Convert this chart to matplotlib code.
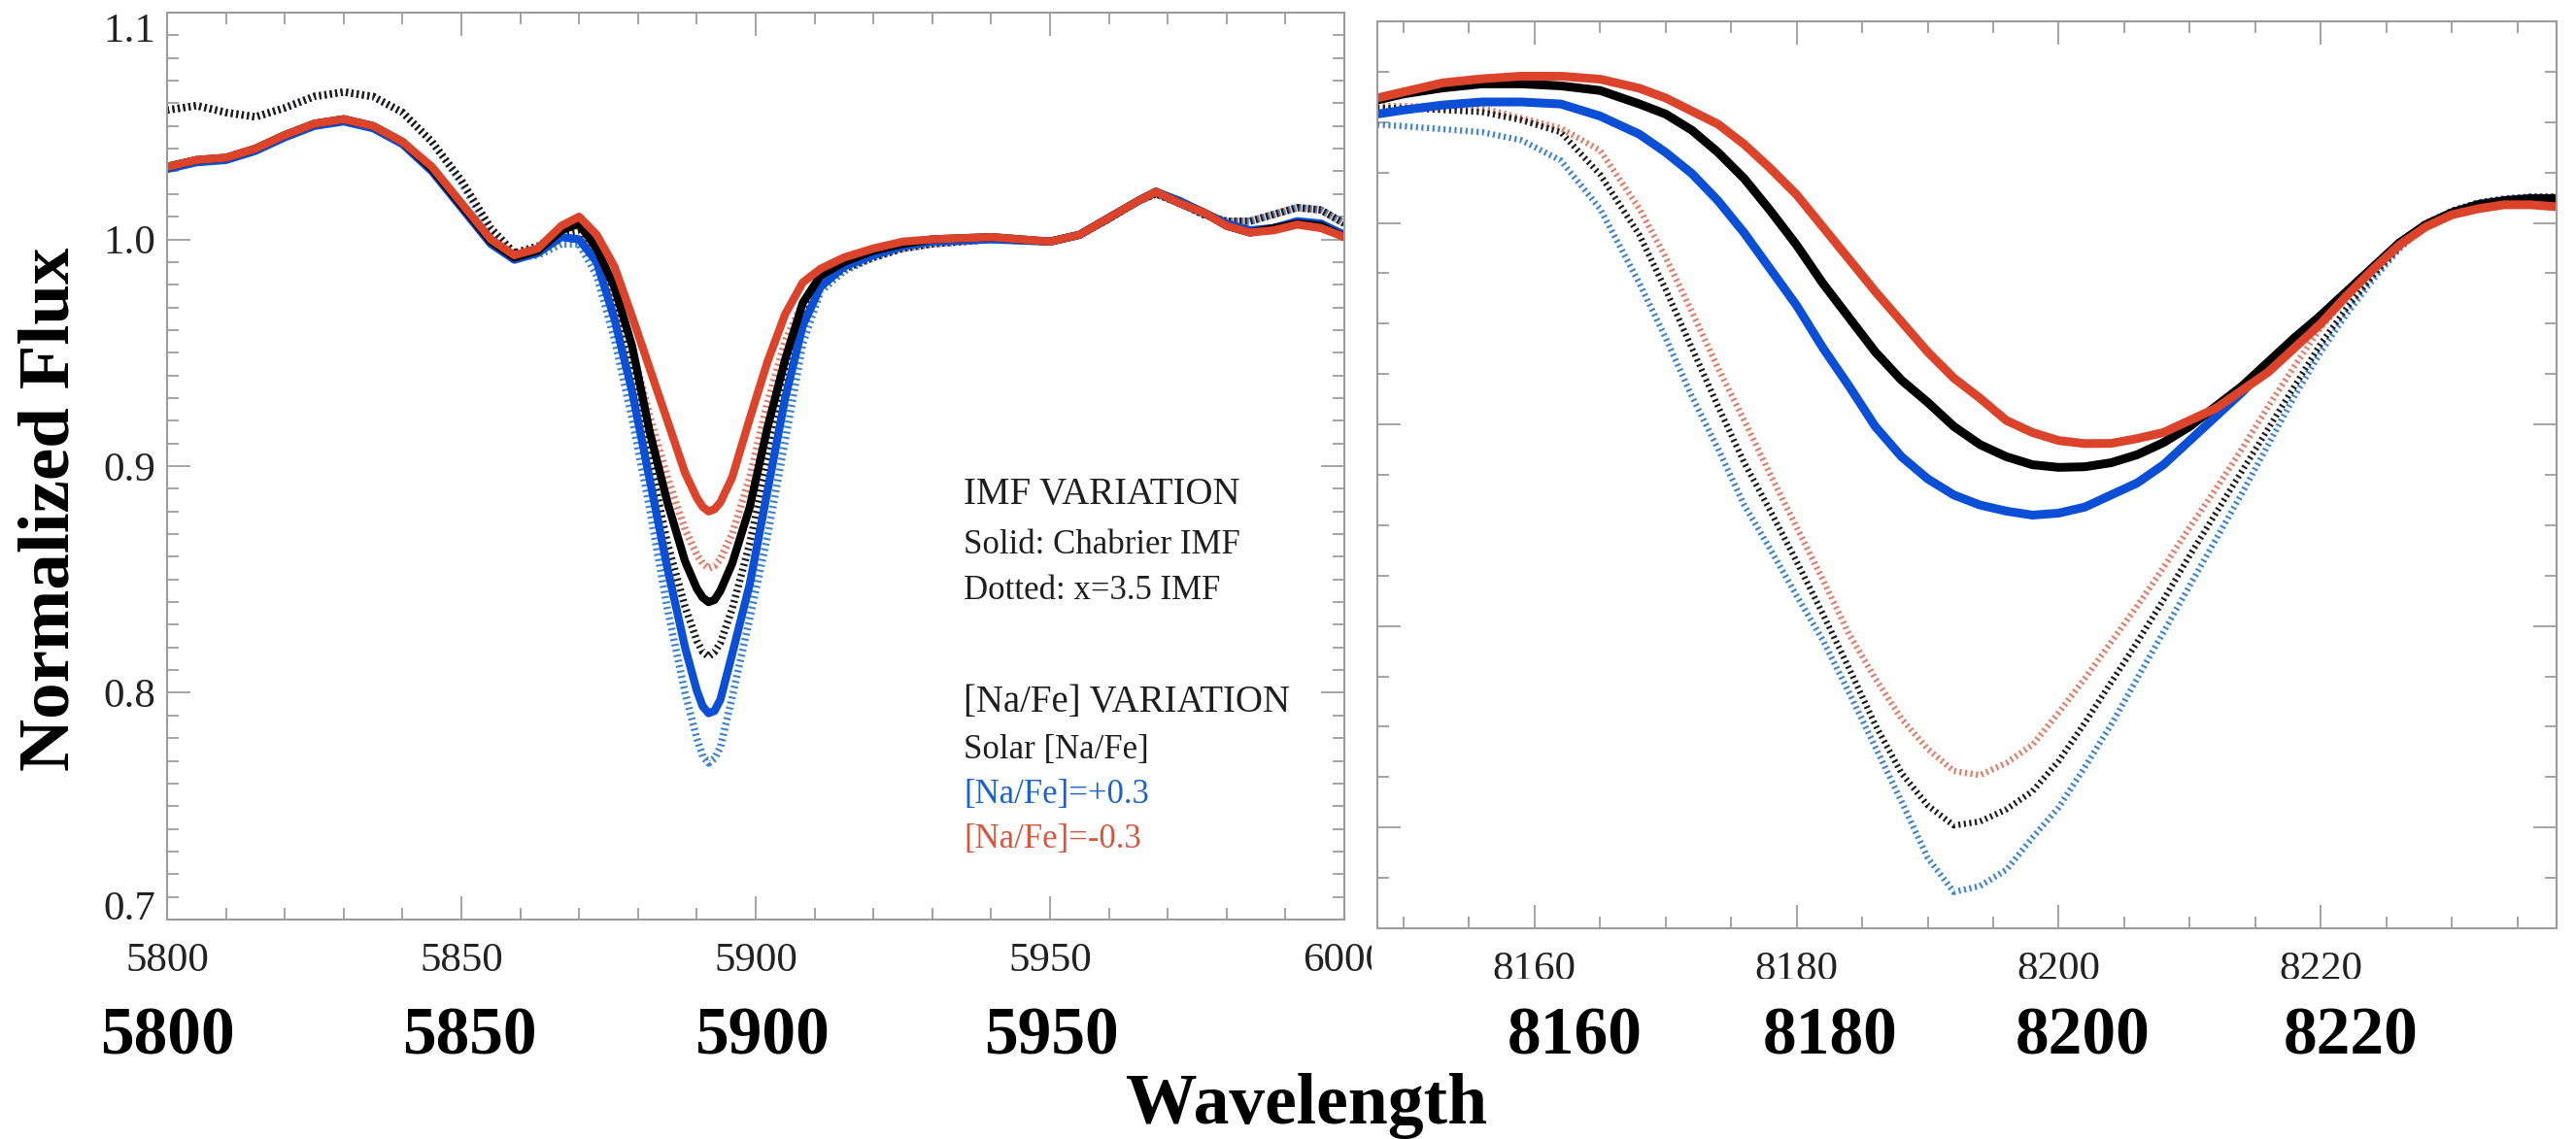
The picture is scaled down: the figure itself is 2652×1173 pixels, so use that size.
import matplotlib
matplotlib.use("Agg")
import matplotlib.pyplot as plt
from matplotlib.ticker import MultipleLocator
from matplotlib.patches import Rectangle

plt.rcParams['font.family'] = ['Liberation Serif', 'DejaVu Serif']


# -------------------------------------------------
# DATA : Na D region (left panel)
# -------------------------------------------------
wl_na = [5800, 5805, 5810, 5815, 5820, 5825, 5830, 5835, 5840, 5845, 5850, 5855,
         5859, 5863, 5867, 5870, 5873, 5876, 5879, 5882, 5885, 5888,
         5890, 5891, 5892, 5893, 5894, 5896, 5899, 5902, 5905, 5908, 5911,
         5915, 5920, 5925, 5930, 5940, 5950, 5955, 5960, 5965, 5968,
         5972, 5976, 5980, 5984, 5988, 5992, 5996, 6000]

# Chabrier IMF (solid)
na_chab_solar = [1.032, 1.035, 1.036, 1.040, 1.046, 1.051, 1.053, 1.050, 1.043, 1.031, 1.015, 0.999,
                 0.992, 0.995, 1.004, 1.007, 0.996, 0.979, 0.953, 0.915, 0.884, 0.858,
                 0.846, 0.842, 0.840, 0.841, 0.845, 0.857, 0.882, 0.917, 0.947, 0.972, 0.984,
                 0.990, 0.995, 0.998, 1.000, 1.001, 0.999, 1.002, 1.0095, 1.017, 1.021,
                 1.016, 1.012, 1.006, 1.003, 1.005, 1.007, 1.006, 1.001]
na_chab_p03 = [1.031, 1.034, 1.035, 1.039, 1.045, 1.050, 1.052, 1.049, 1.042, 1.030, 1.014, 0.998,
               0.991, 0.994, 1.001, 1.000, 0.990, 0.965, 0.933, 0.894, 0.855, 0.820,
               0.801, 0.794, 0.791, 0.792, 0.797, 0.817, 0.848, 0.889, 0.930, 0.962, 0.979,
               0.988, 0.993, 0.997, 0.999, 1.000, 0.999, 1.002, 1.0095, 1.017, 1.021,
               1.017, 1.012, 1.007, 1.004, 1.005, 1.008, 1.007, 1.002]
na_chab_m03 = [1.032, 1.035, 1.036, 1.040, 1.046, 1.051, 1.053, 1.050, 1.043, 1.032, 1.016, 1.000,
               0.993, 0.996, 1.006, 1.010, 1.002, 0.988, 0.966, 0.943, 0.920, 0.897,
               0.886, 0.882, 0.880, 0.881, 0.884, 0.895, 0.921, 0.946, 0.967, 0.981, 0.987,
               0.992, 0.996, 0.999, 1.000, 1.001, 0.999, 1.002, 1.0095, 1.017, 1.021,
               1.016, 1.012, 1.006, 1.003, 1.004, 1.0065, 1.005, 1.001]

# x=3.5 IMF (dotted)
na_x35_solar = [1.057, 1.059, 1.056, 1.054, 1.058, 1.063, 1.065, 1.063, 1.056, 1.043, 1.026, 1.005,
                0.994, 0.997, 1.002, 1.003, 0.991, 0.968, 0.940, 0.903, 0.866, 0.838,
                0.823, 0.818, 0.816, 0.818, 0.822, 0.837, 0.866, 0.902, 0.936, 0.964, 0.980,
                0.987, 0.992, 0.996, 0.998, 1.000, 0.999, 1.002, 1.009, 1.017, 1.020,
                1.016, 1.011, 1.008, 1.008, 1.011, 1.014, 1.013, 1.007]
na_x35_p03 = [1.057, 1.059, 1.056, 1.054, 1.058, 1.063, 1.065, 1.063, 1.056, 1.043, 1.025, 1.003,
              0.992, 0.993, 0.998, 0.998, 0.984, 0.956, 0.921, 0.881, 0.837, 0.800,
              0.780, 0.772, 0.769, 0.771, 0.776, 0.798, 0.833, 0.869, 0.911, 0.954, 0.977,
              0.986, 0.992, 0.996, 0.998, 1.000, 0.999, 1.002, 1.009, 1.017, 1.020,
              1.016, 1.011, 1.008, 1.008, 1.011, 1.014, 1.013, 1.007]
na_x35_m03 = [1.057, 1.059, 1.056, 1.054, 1.058, 1.063, 1.065, 1.063, 1.056, 1.043, 1.026, 1.005,
              0.994, 0.997, 1.004, 1.006, 0.995, 0.976, 0.952, 0.922, 0.895, 0.872,
              0.861, 0.857, 0.855, 0.856, 0.859, 0.870, 0.895, 0.928, 0.955, 0.972, 0.982,
              0.988, 0.993, 0.996, 0.998, 1.000, 0.999, 1.002, 1.009, 1.017, 1.020,
              1.016, 1.011, 1.008, 1.008, 1.011, 1.014, 1.013, 1.007]


# -------------------------------------------------
# DATA : Na I 8190 region (right panel)
# -------------------------------------------------
wl_ca = [8148, 8150, 8153, 8156, 8159, 8162, 8165, 8168, 8170, 8172, 8174, 8176,
         8178, 8180, 8182, 8184, 8186, 8188, 8190, 8192, 8194, 8196, 8198, 8200,
         8202, 8204, 8206, 8208, 8210, 8212, 8214, 8216, 8218, 8220, 8222, 8224,
         8226, 8228, 8230, 8232, 8234, 8236, 8238]

ca_chab_solar = [1.061, 1.064, 1.067, 1.069, 1.069, 1.068, 1.0657, 1.059, 1.054, 1.046, 1.035, 1.022,
                 1.006, 0.989, 0.970, 0.953, 0.936, 0.922, 0.911, 0.899, 0.890, 0.884, 0.880, 0.8787,
                 0.879, 0.881, 0.885, 0.891, 0.899, 0.909, 0.919, 0.931, 0.943, 0.954, 0.966, 0.978,
                 0.990, 0.999, 1.005, 1.009, 1.011, 1.012, 1.012]
ca_chab_p03 = [1.054, 1.056, 1.0585, 1.060, 1.060, 1.059, 1.053, 1.044, 1.035, 1.0245, 1.011, 0.995,
               0.977, 0.959, 0.938, 0.919, 0.899, 0.884, 0.873, 0.865, 0.860, 0.857, 0.855, 0.856,
               0.859, 0.865, 0.871, 0.880, 0.892, 0.904, 0.916, 0.929, 0.941, 0.954, 0.966, 0.978,
               0.990, 0.999, 1.005, 1.009, 1.011, 1.012, 1.012]
ca_chab_m03 = [1.062, 1.065, 1.0695, 1.0715, 1.0728, 1.0728, 1.0713, 1.0668, 1.062, 1.0555, 1.049, 1.039,
               1.027, 1.014, 0.998, 0.982, 0.966, 0.951, 0.936, 0.923, 0.913, 0.902, 0.896, 0.892,
               0.8905, 0.8906, 0.893, 0.896, 0.902, 0.908, 0.917, 0.926, 0.938, 0.950, 0.964, 0.977,
               0.989, 0.998, 1.004, 1.007, 1.009, 1.009, 1.008]

ca_x35_solar = [1.057, 1.057, 1.056, 1.055, 1.051, 1.045, 1.024, 0.994, 0.967, 0.938, 0.909, 0.881,
                0.857, 0.832, 0.806, 0.779, 0.751, 0.727, 0.711, 0.701, 0.703, 0.709, 0.718, 0.733,
                0.752, 0.772, 0.792, 0.813, 0.835, 0.856, 0.877, 0.898, 0.919, 0.940, 0.958, 0.974,
                0.988, 0.999, 1.006, 1.010, 1.012, 1.013, 1.013]
ca_x35_p03 = [1.0488, 1.048, 1.0465, 1.045, 1.041, 1.031, 1.007, 0.970, 0.943, 0.914, 0.888, 0.860,
              0.838, 0.815, 0.793, 0.767, 0.740, 0.713, 0.685, 0.668, 0.671, 0.679, 0.695, 0.710,
              0.730, 0.751, 0.774, 0.797, 0.820, 0.843, 0.866, 0.890, 0.914, 0.936, 0.955, 0.972,
              0.987, 0.999, 1.006, 1.010, 1.012, 1.013, 1.013]
ca_x35_m03 = [1.058, 1.058, 1.0575, 1.057, 1.052, 1.047, 1.036, 1.007, 0.983, 0.956, 0.928, 0.902,
              0.875, 0.849, 0.823, 0.796, 0.774, 0.754, 0.739, 0.728, 0.726, 0.732, 0.741, 0.757,
              0.774, 0.792, 0.810, 0.829, 0.849, 0.868, 0.888, 0.909, 0.929, 0.948, 0.963, 0.977,
              0.990, 1.000, 1.006, 1.010, 1.012, 1.013, 1.013]

# tick labels
na_ticks = [5800, 5850, 5900, 5950, 6000]
ca_ticks = [8160, 8180, 8200, 8220]
flux_ticks = [0.7, 0.8, 0.9, 1.0, 1.1]
flux_labels = ['0.7', '0.8', '0.9', '1.0', '1.1']
big_labels = ['5800', '5850', '5900', '5950', '8160', '8180', '8200', '8220']

legend_lines = ['IMF VARIATION', 'Solid: Chabrier IMF', 'Dotted: x=3.5 IMF',
                '[Na/Fe] VARIATION', 'Solar [Na/Fe]', '[Na/Fe]=+0.3', '[Na/Fe]=-0.3']


# -------------------------------------------------
# STYLE
# -------------------------------------------------
RED = '#dc432b'
BLUE = '#0a4fd6'
BLACK = '#000000'
RED_DOT = '#e27c69'
BLUE_DOT = '#3f84d0'
BLACK_DOT = '#1c1c1c'

W, H = 2652, 1173


def px_box(left, top, right, bottom):
    return [left / W, 1 - bottom / H, (right - left) / W, (bottom - top) / H]


def style_axes(ax):
    for s in ax.spines.values():
        s.set_color('#9c9c9c')
        s.set_linewidth(1.5)
    ax.tick_params(which='both', direction='in', top=True, right=True,
                   color='#8c8c8c', width=1.1)
    ax.tick_params(which='major', length=17)
    ax.tick_params(which='minor', length=8.5)
    ax.tick_params(labelsize=31, labelcolor='#222222')
    ax.tick_params(axis='x', pad=17)
    ax.tick_params(axis='y', pad=8.5)


def draw_set(ax, wl, solar, p03, m03, d_solar, d_p03, d_m03, lw_s, lw_d, dash):
    dot_kw = dict(lw=lw_d, dashes=dash, dash_capstyle='butt')
    # red first so the overlapping wings look dark like the original
    ax.plot(wl, d_m03, color=RED_DOT, **dot_kw)
    ax.plot(wl, d_p03, color=BLUE_DOT, **dot_kw)
    ax.plot(wl, d_solar, color=BLACK_DOT, **dot_kw)
    ax.plot(wl, p03, color=BLUE, lw=lw_s, solid_joinstyle='round')
    ax.plot(wl, solar, color=BLACK, lw=lw_s, solid_joinstyle='round')
    ax.plot(wl, m03, color=RED, lw=lw_s, solid_joinstyle='round')


fig = plt.figure(figsize=(W / 100, H / 100), dpi=100)

# -------------------------------------------------
# LEFT PANEL
# -------------------------------------------------
ax1 = fig.add_axes(px_box(172, 13, 1384, 947))
draw_set(ax1, wl_na, na_chab_solar, na_chab_p03, na_chab_m03,
         na_x35_solar, na_x35_p03, na_x35_m03, 6, 5.5, (0.28, 0.45))
ax1.set_xlim(5800, 6000)
ax1.set_ylim(0.7, 1.1)
style_axes(ax1)
ax1.set_xticks(na_ticks)
ax1.xaxis.set_minor_locator(MultipleLocator(10))
ax1.set_yticks(flux_ticks, labels=flux_labels)
ax1.yaxis.set_minor_locator(MultipleLocator(0.01))
ylabs = ax1.get_yticklabels()
ylabs[0].set_verticalalignment('baseline')
ylabs[-1].set_verticalalignment('top')

leg_y = [0.468, 0.413, 0.362, 0.239, 0.187, 0.138, 0.088]
leg_size = [28, 25, 25, 28, 25, 25, 25]
leg_color = ['#1e1e1e'] * 5 + ['#1a62d2', '#d8563c']
for txt, yy, fs, c in zip(legend_lines, leg_y, leg_size, leg_color):
    ax1.text(0.6766, yy, txt, transform=ax1.transAxes, fontsize=fs,
             color=c, ha='left', va='center')

# -------------------------------------------------
# RIGHT PANEL
# -------------------------------------------------
ax2 = fig.add_axes(px_box(1418, 22, 2632, 956))
ax2.set_zorder(2)
draw_set(ax2, wl_ca, ca_chab_solar, ca_chab_p03, ca_chab_m03,
         ca_x35_solar, ca_x35_p03, ca_x35_m03, 6.5, 4.6, (0.34, 0.55))
ax2.set_xlim(8148, 8238)
ax2.set_ylim(0.65, 1.10)
style_axes(ax2)
ax2.set_xticks(ca_ticks)
ax2.xaxis.set_minor_locator(MultipleLocator(5))
ax2.set_yticks(flux_ticks)
ax2.yaxis.set_minor_locator(MultipleLocator(0.025))
ax2.tick_params(axis='y', labelleft=False)

# the two panels overlap a little at the tick label row
fig.add_artist(Rectangle((1412 / W, 1 - 1032 / H), (W - 1412) / W, 72 / H,
                         transform=fig.transFigure, facecolor='white',
                         edgecolor='none', zorder=1))
fig.add_artist(Rectangle((1412 / W, 1 - 1032 / H), (W - 1412) / W, 24 / H,
                         transform=fig.transFigure, facecolor='white',
                         edgecolor='none', zorder=3))

# -------------------------------------------------
# BIG LABELS
# -------------------------------------------------
big_x = [172, 483, 785, 1082, 1621, 1884, 2144, 2420]
for txt, xx in zip(big_labels, big_x):
    fig.text(xx / W, 1 - 1085 / H, txt, fontsize=50, fontweight='bold',
             ha='center', va='baseline', zorder=4)

fig.text(1345 / W, 1 - 1157 / H, 'Wavelength', fontsize=53, fontweight='bold',
         ha='center', va='baseline', zorder=4)
fig.text(53 / W, 1 - 524 / H, 'Normalized Flux', fontsize=54, fontweight='bold',
         rotation=90, ha='center', va='center', zorder=4)

fig.savefig('out.png', dpi=100)
